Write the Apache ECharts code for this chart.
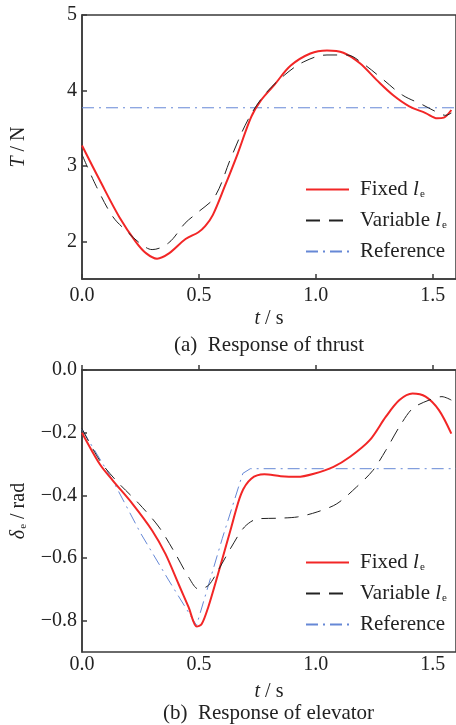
<!DOCTYPE html>
<html>
<head>
<meta charset="utf-8">
<script src="https://cdn.jsdelivr.net/npm/echarts@6/dist/echarts.min.js"></script>
<style>
html,body{margin:0;padding:0;background:#fff;}
#c{width:456px;height:725px;}
</style>
</head>
<body>
<div id="c"></div>
<script>
// ---- Data: (a) thrust ----
const thrustFixedT = [0,0.075,0.16,0.231,0.275,0.321,0.372,0.443,0.498,0.527,0.56,0.611,0.667,0.724,0.766,0.822,0.893,0.977,1.048,1.118,1.189,1.26,1.33,1.40,1.47,1.52,1.548,1.58];
const thrustFixedV = [3.27,2.815,2.32,1.99,1.84,1.77,1.84,2.03,2.12,2.20,2.35,2.73,3.17,3.65,3.87,4.07,4.33,4.49,4.53,4.50,4.36,4.14,3.94,3.79,3.70,3.63,3.64,3.74];
const thrustVarT = [0,0.061,0.131,0.189,0.25,0.30,0.371,0.441,0.498,0.568,0.639,0.71,0.78,0.865,0.949,1.048,1.133,1.20,1.29,1.37,1.457,1.513,1.556,1.58];
const thrustVarV = [3.15,2.73,2.33,2.14,1.97,1.89,1.98,2.24,2.39,2.59,3.12,3.61,3.94,4.20,4.38,4.47,4.47,4.36,4.14,3.94,3.81,3.72,3.67,3.70];
const thrustRefT = [0,1.6];
const thrustRefV = [3.77,3.77];
// ---- Data: (b) elevator ----
const elevFixedT = [0,0.075,0.131,0.216,0.30,0.357,0.413,0.456,0.491,0.512,0.54,0.582,0.639,0.681,0.724,0.78,0.85,0.921,0.992,1.076,1.147,1.231,1.30,1.358,1.414,1.47,1.527,1.58];
const elevFixedV = [-0.20,-0.299,-0.352,-0.427,-0.512,-0.587,-0.683,-0.757,-0.819,-0.811,-0.757,-0.651,-0.501,-0.395,-0.347,-0.333,-0.339,-0.341,-0.331,-0.309,-0.277,-0.224,-0.149,-0.096,-0.075,-0.085,-0.128,-0.203];
const elevVarT = [0,0.075,0.145,0.244,0.329,0.40,0.456,0.498,0.54,0.582,0.639,0.695,0.752,0.836,0.921,1.006,1.09,1.175,1.245,1.30,1.358,1.414,1.485,1.54,1.58];
const elevVarV = [-0.187,-0.288,-0.352,-0.427,-0.501,-0.587,-0.661,-0.699,-0.688,-0.64,-0.565,-0.501,-0.475,-0.473,-0.469,-0.453,-0.427,-0.373,-0.32,-0.256,-0.181,-0.123,-0.096,-0.085,-0.096];
const elevRefT = [0,0.13,0.25,0.37,0.49,0.6,0.688,0.72,1.6];
const elevRefV = [-0.19,-0.35,-0.52,-0.67,-0.815,-0.538,-0.33,-0.315,-0.315];
// ---- Ticks ----
const xTicks = [0,0.5,1.0,1.5];
const thrustTicks = [2,3,4,5];
const elevTicks = [0,-0.2,-0.4,-0.6,-0.8];
const seriesNames = ['Fixed le','Variable le','Reference'];
const captions = ['(a)  Response of thrust','(b)  Response of elevator'];

const zip = (a,b) => a.map((x,i)=>[x,b[i]]);
const FF = '"Liberation Serif","DejaVu Serif",serif';
const AX = '#3a3a3a';
const RED = '#f22626', BLK = '#222222', BLU = '#6688d6';
const rich = {
  i:{fontFamily:FF,fontSize:20,fontStyle:'italic',color:'#222'},
  s:{fontFamily:FF,fontSize:11,verticalAlign:'bottom',color:'#222',padding:[0,0,0,1]}
};
const richL = {
  i:{fontFamily:FF,fontSize:21,fontStyle:'italic',color:'#222'},
  s:{fontFamily:FF,fontSize:11,verticalAlign:'bottom',color:'#222',padding:[0,0,0,1]}
};
const fmtNum = v => (v<0?'\u2212':'') + Math.abs(v).toFixed(1);

function xAxis(gi, nameGap, margin){
  return {type:'value',gridIndex:gi,min:0,max:1.6,
    name:'{i|t} / s',nameLocation:'middle',nameGap:nameGap,
    nameTextStyle:{fontFamily:FF,fontSize:20,color:'#222',rich:rich},
    axisLine:{show:true,lineStyle:{color:AX,width:1.5}},
    axisTick:{show:true,inside:true,length:5,customValues:xTicks,lineStyle:{color:AX,width:1.5}},
    axisLabel:{customValues:xTicks,formatter:v=>fmtNum(v),fontFamily:FF,fontSize:20,color:'#222',margin:margin},
    splitLine:{show:false}};
}
function yAxis(gi,min,max,ticks,name,nameGap){
  return {type:'value',gridIndex:gi,min:min,max:max,
    name:name,nameLocation:'middle',nameGap:nameGap,nameRotate:90,
    nameTextStyle:{fontFamily:FF,fontSize:20,color:'#222',rich:rich},
    axisLine:{show:true,lineStyle:{color:AX,width:1.5}},
    axisTick:{show:true,inside:true,length:5,customValues:ticks,lineStyle:{color:AX,width:1.5}},
    axisLabel:{customValues:ticks,formatter:v=>Number.isInteger(v)&&gi===0?String(v):fmtNum(v),fontFamily:FF,fontSize:20,color:'#222',margin:5},
    splitLine:{show:false}};
}
function ser(name,gi,data,color,width,type,smooth){
  return {name:name,type:'line',xAxisIndex:gi,yAxisIndex:gi,data:data,showSymbol:false,symbol:'none',
    smooth:smooth,lineStyle:{color:color,width:width,type:type},itemStyle:{color:color},z:name==='Fixed le'?3:(name==='Reference'?2:4)};
}
function legend(top){
  return {orient:'vertical',left:300,top:top,itemWidth:43,itemHeight:14,itemGap:10,
    data:seriesNames,
    itemStyle:{opacity:0,borderWidth:0},
    formatter:n=>n.endsWith(' le')?n.slice(0,-3)+' {i|l}{s|e}':n,
    textStyle:{fontFamily:FF,fontSize:21,color:'#222',rich:richL,padding:[0,0,0,6]}};
}
const chart = echarts.init(document.getElementById('c'),null,{renderer:'canvas'});
chart.setOption({
  backgroundColor:'#fff',
  animation:false,
  grid:[
    {left:82,top:15,width:378,height:264,show:true,borderColor:AX,borderWidth:1.5,backgroundColor:'transparent'},
    {left:82,top:370,width:378,height:282,show:true,borderColor:AX,borderWidth:1.5,backgroundColor:'transparent'}
  ],
  xAxis:[xAxis(0,30,7),xAxis(1,30,3)],
  yAxis:[yAxis(0,1.5,5,thrustTicks,'{i|T} / N',53),yAxis(1,-0.9,0,elevTicks,'{i|δ}{s|e} / rad',53)],
  legend:[legend(174),legend(547)],
  series:[
    ser('Reference',0,zip(thrustRefT,thrustRefV),BLU,1,[12,5,2,5],false),
    ser('Variable le',0,zip(thrustVarT,thrustVarV),BLK,1,[14,9],0.35),
    ser('Fixed le',0,zip(thrustFixedT,thrustFixedV),RED,2,'solid',0.35),
    ser('Reference',1,zip(elevRefT,elevRefV),BLU,1,[12,5,2,5],false),
    ser('Variable le',1,zip(elevVarT,elevVarV),BLK,1,[14,9],0.3),
    ser('Fixed le',1,zip(elevFixedT,elevFixedV),RED,2,'solid',0.3)
  ],
  graphic:[
    {type:'text',left:174,top:335,style:{text:captions[0],font:'21px '+FF,fill:'#222'}},
    {type:'text',left:163,top:703,style:{text:captions[1],font:'21px '+FF,fill:'#222'}}
  ]
});
</script>
</body>
</html>
